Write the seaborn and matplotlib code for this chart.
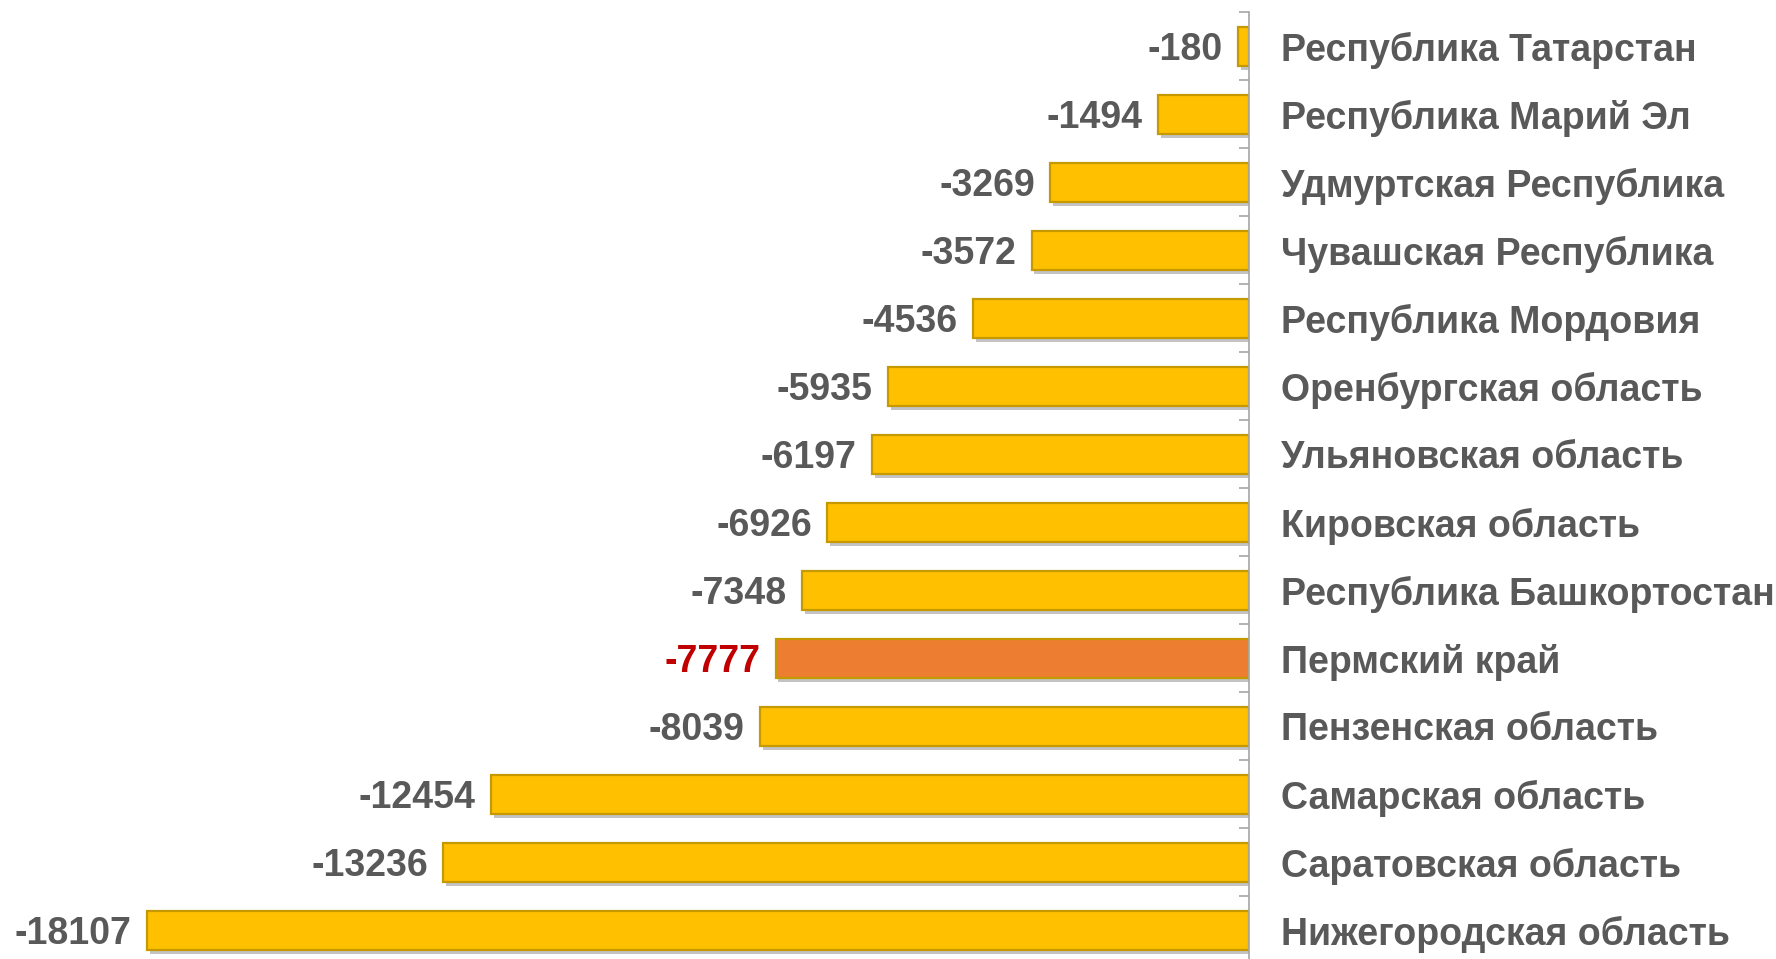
import pandas as pd
import seaborn as sns
import matplotlib.pyplot as plt
import matplotlib.patheffects as pe

# data (top to bottom)
regions = [
    'Республика Татарстан', 'Республика Марий Эл', 'Удмуртская Республика',
    'Чувашская Республика', 'Республика Мордовия', 'Оренбургская область',
    'Ульяновская область', 'Кировская область', 'Республика Башкортостан',
    'Пермский край', 'Пензенская область', 'Самарская область',
    'Саратовская область', 'Нижегородская область',
]
values = [-180, -1494, -3269, -3572, -4536, -5935, -6197, -6926, -7348,
          -7777, -8039, -12454, -13236, -18107]
highlight = 'Пермский край'

df = pd.DataFrame({'region': regions, 'value': values})

sns.set_style('white')
plt.rcParams['font.family'] = ['Liberation Sans', 'DejaVu Sans']

fig = plt.figure(figsize=(17.76, 9.59), dpi=100)
ax = fig.add_axes([0.0, -0.0057, 1249 / 1776, 952 / 959])

colors = {r: ('#ED7D31' if r == highlight else '#FFC000') for r in regions}
sns.barplot(data=df, y='region', x='value', hue='region', palette=colors,
            orient='h', width=0.57, legend=False, ax=ax, saturation=1)

shadow = [pe.SimplePatchShadow(offset=(2, -3), shadow_rgbFace='#555555', alpha=0.35),
          pe.Normal()]
for p in ax.patches:
    p.set_edgecolor('#C49A00')
    p.set_linewidth(1.6)
    p.set_path_effects(shadow)

ax.set_xlim(-20523, 0)
ax.set_ylim(len(regions) - 0.5, -0.5)

# value labels left of the bars
for i, (r, v) in enumerate(zip(regions, values)):
    ax.annotate(str(v), xy=(v, i), xytext=(-11, 0), textcoords='offset points',
                ha='right', va='center_baseline', fontsize=27, fontweight='bold',
                color='#C00000' if r == highlight else '#595959')

# axis and category labels on the right
for s in ['top', 'left', 'bottom']:
    ax.spines[s].set_visible(False)
ax.spines['right'].set_color('#A6A6A6')
ax.spines['right'].set_linewidth(1.2)
ax.set_xticks([])
ax.yaxis.tick_right()
ax.set_yticks(range(len(regions)))
ax.set_yticklabels(regions, fontsize=27, fontweight='bold', color='#595959')
ax.tick_params(axis='y', which='major', length=0, pad=23)
ax.set_yticks([i + 0.5 for i in range(-1, len(regions))], minor=True)
ax.tick_params(axis='y', which='minor', direction='in', length=7,
               color='#A6A6A6', width=1.2)
ax.set_xlabel('')
ax.set_ylabel('')

fig.savefig('out.png', dpi=100)
